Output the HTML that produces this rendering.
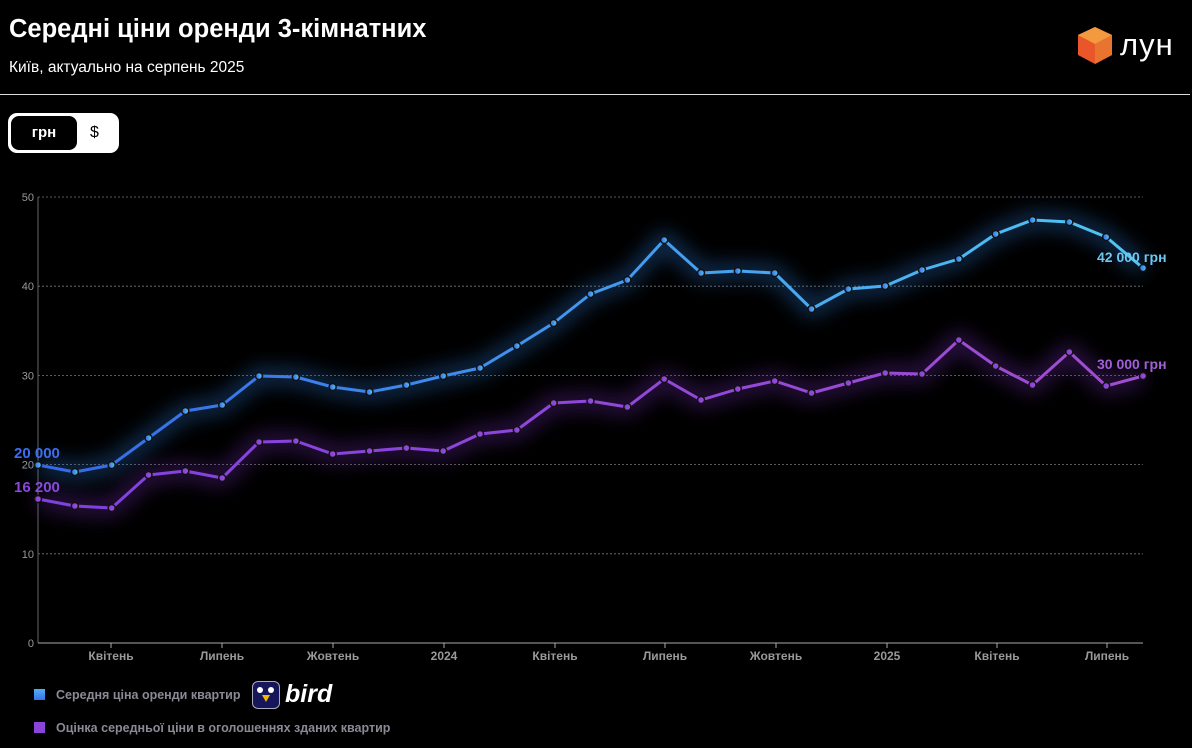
<!DOCTYPE html>
<html><head><meta charset="utf-8"><style>
body{margin:0;background:#000;width:1192px;height:748px;overflow:hidden;font-family:"Liberation Sans","Noto Sans CJK SC",sans-serif;color:#fff}
.t{position:absolute;left:9px;top:15px;font-size:25.5px;font-weight:bold}
.s{position:absolute;left:9px;top:59px;font-size:15.5px}
.tog{position:absolute;left:8px;top:113px;width:111px;height:40px;background:#fff;border-radius:9px}
.tog .a{position:absolute;left:3px;top:3px;width:66px;height:34px;background:#000;border-radius:8px;color:#fff;font-weight:bold;font-size:15px;line-height:34px;text-align:center}
.tog .b{position:absolute;left:82px;top:0;line-height:40px;color:#000;font-size:16px}
.leg{position:absolute;left:34px;font-size:12.5px;color:#8a8a96;font-weight:bold}
.leg i{display:inline-block;width:11px;height:11px;margin-right:11px;vertical-align:-1px}
</style></head><body>
<div class="t">Середні ціни оренди 3-кімнатних</div>
<div class="s">Київ, актуально на серпень 2025</div>
<svg style="position:absolute;left:1075px;top:26px" width="40" height="40" viewBox="0 0 40 40">
<polygon points="20,1 37,9 37,29 20,38 3,29 3,9" fill="#e8562a"/>
<polygon points="20,1 37,9 20,18 3,9" fill="#f39a3e"/>
<polygon points="20,18 37,9 37,29 20,38" fill="#e8742f"/>
</svg>
<div style="position:absolute;left:1120px;top:27px;font-size:31px;color:#fff;letter-spacing:1px">лун</div>
<div style="position:absolute;left:0;top:94px;width:1190px;height:1px;background:#ddd"></div>
<div class="tog"><div class="a">грн</div><div class="b">$</div></div>
<svg id="c" style="position:absolute;left:0;top:0" width="1192" height="748"></svg>
<div class="leg" style="top:688px"><i style="background:linear-gradient(#4fb0f5,#3a70e8)"></i>Середня ціна оренди квартир</div>
<div style="position:absolute;left:252px;top:681px;width:28px;height:28px;background:#15175a;border:1.5px solid #aab;border-radius:6px;box-sizing:border-box"><div style="position:absolute;left:9px;top:13px;width:0;height:0;border-left:4px solid transparent;border-right:4px solid transparent;border-top:7px solid #f5b800"></div><div style="position:absolute;left:4px;top:5px;width:6px;height:6px;border-radius:50%;background:#fff"></div><div style="position:absolute;left:15px;top:5px;width:6px;height:6px;border-radius:50%;background:#fff"></div></div>
<div style="position:absolute;left:285px;top:680px;font-size:25px;font-weight:bold;font-style:italic">bird</div>
<div class="leg" style="top:721px"><i style="background:#8a44d8"></i>Оцінка середньої ціни в оголошеннях зданих квартир</div>
<script>
const B=[465,472,465,438,411,405,376,377,387,392,385,376,368,346,323,294,280,240,273,271,273,309,289,286,270,259,234,220,222,237,268];
const P=[499,506,508,475,471,478,442,441,454,451,448,451,434,430,403,401,407,379,400,389,381,393,383,373,374,340,366,385,352,386,376];
const X=i=>38+i*(1143-38)/30;
let s=`<defs><linearGradient id="gb" x1="0" x2="1"><stop offset="0" stop-color="#3568e8"/><stop offset="1" stop-color="#52c6f2"/></linearGradient>
<linearGradient id="gp" x1="0" x2="1"><stop offset="0" stop-color="#8040e0"/><stop offset="1" stop-color="#a14ed0"/></linearGradient>
<filter id="gl" x="-10%" y="-50%" width="120%" height="200%"><feGaussianBlur stdDeviation="10"/></filter></defs>`;
for(let v=0;v<=50;v+=10){const y=643-v*8.92;
 if(v>0)s+=`<line x1="38" x2="1143" y1="${y}" y2="${y}" stroke="#777" stroke-dasharray="2,2" stroke-width="0.8"/>`;
 s+=`<text x="34" y="${y+4}" font-size="11" fill="#999" text-anchor="end">${v}</text>`;}
s+=`<line x1="38" x2="38" y1="197" y2="643" stroke="#666"/><line x1="38" x2="1143" y1="643" y2="643" stroke="#aaa"/>`;
[[111,"Квітень"],[222,"Липень"],[333,"Жовтень"],[444,"2024"],[555,"Квітень"],[665,"Липень"],[776,"Жовтень"],[887,"2025"],[997,"Квітень"],[1107,"Липень"]].forEach(([x,t])=>{
 s+=`<line x1="${x}" x2="${x}" y1="643" y2="648" stroke="#aaa"/><text x="${x}" y="660" font-size="12" font-weight="bold" fill="#999" text-anchor="middle">${t}</text>`;});
function ser(D,g,glow){const pts=D.map((y,i)=>X(i)+","+y).join(" ");
 let r=`<polyline points="${pts}" fill="none" stroke="${glow}" stroke-width="14" opacity="0.45" filter="url(#gl)"/>`;
 r+=`<polyline points="${pts}" fill="none" stroke="url(#${g})" stroke-width="3" stroke-linejoin="round"/>`;
 D.forEach((y,i)=>{r+=`<circle cx="${X(i)}" cy="${y}" r="3.5" fill="url(#${g})" stroke="#111" stroke-width="1.5"/>`});return r;}
s+=ser(P,"gp","#7a30c0")+ser(B,"gb","#2f7fe0");
s+=`<text x="14" y="458" font-size="15" font-weight="bold" fill="#3b6ef0">20 000</text>
<text x="14" y="492" font-size="15" font-weight="bold" fill="#8a48dc">16 200</text>
<text x="1097" y="262" font-size="14" font-weight="bold" fill="#6cc8f0">42 000 грн</text>
<text x="1097" y="369" font-size="14" font-weight="bold" fill="#a060d8">30 000 грн</text>`;
document.getElementById("c").innerHTML=s;
</script>
</body></html>
